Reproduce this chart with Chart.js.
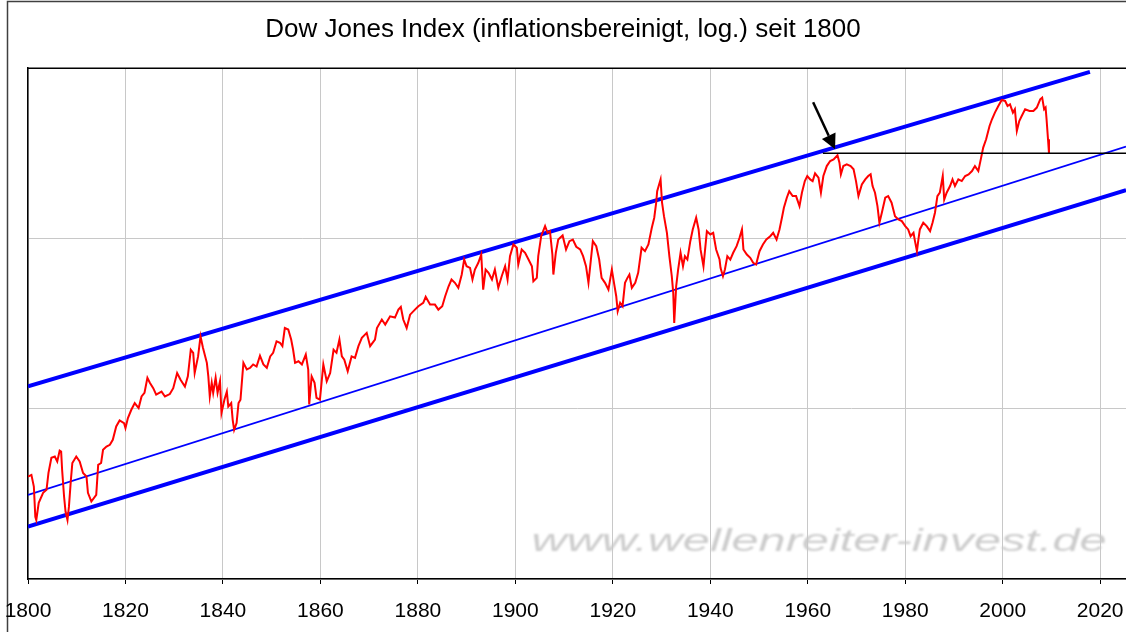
<!DOCTYPE html>
<html>
<head>
<meta charset="utf-8">
<title>Dow Jones Index seit 1800</title>
<script src="https://cdn.jsdelivr.net/npm/chart.js@4/dist/chart.umd.min.js"></script>
<style>
    body { margin: 0; background: #fff; }
    #dowChart { display: block; }
</style>
</head>
<body>
<canvas id="dowChart" width="1126" height="632"></canvas>
<script>

const title = 'Dow Jones Index (inflationsbereinigt, log.) seit 1800';
const watermark = 'www.wellenreiter-invest.de';

const years = [
    1800.0, 1800.7, 1801.2, 1801.5, 1801.7, 1802.2, 1803.1, 1803.8, 1804.2, 1804.8,
    1805.5, 1806.0, 1806.5, 1806.8, 1807.0, 1807.4, 1807.7, 1808.1, 1808.4, 1808.8,
    1809.1, 1809.9, 1810.6, 1811.3, 1812.0, 1812.3, 1813.0, 1814.0, 1814.4, 1815.0,
    1815.4, 1816.1, 1816.8, 1817.4, 1818.1, 1818.8, 1819.7, 1820.0, 1820.5, 1821.2,
    1821.9, 1822.7, 1823.3, 1823.9, 1824.5, 1825.0, 1825.7, 1826.3, 1827.4, 1828.1,
    1829.1, 1829.8, 1830.6, 1831.3, 1832.2, 1832.8, 1833.4, 1833.9, 1834.2, 1834.9,
    1835.4, 1835.9, 1836.7, 1837.0, 1837.3, 1837.7, 1838.0, 1838.5, 1838.9, 1839.4,
    1839.7, 1840.3, 1840.8, 1841.1, 1841.7, 1842.0, 1842.3, 1842.8, 1843.2, 1843.6,
    1844.2, 1844.9, 1845.6, 1846.2, 1846.9, 1847.6, 1848.3, 1849.0, 1849.7, 1850.3,
    1851.0, 1851.7, 1852.2, 1852.7, 1853.4, 1854.0, 1854.4, 1854.8, 1855.5, 1856.2,
    1857.0, 1857.5, 1857.7, 1858.2, 1858.8, 1859.2, 1859.9, 1860.6, 1861.3, 1862.0,
    1862.7, 1863.3, 1863.9, 1864.4, 1864.9, 1865.6, 1866.4, 1867.1, 1867.8, 1868.5,
    1869.5, 1870.2, 1871.2, 1871.6, 1872.6, 1873.3, 1874.3, 1875.3, 1876.0, 1876.5,
    1877.0, 1877.7, 1878.4, 1879.4, 1880.1, 1881.1, 1881.6, 1882.5, 1883.5, 1884.2,
    1885.0, 1885.6, 1886.3, 1886.9, 1887.6, 1888.3, 1889.0, 1889.5, 1890.0, 1890.7,
    1891.2, 1891.7, 1892.4, 1893.0, 1893.4, 1893.9, 1894.5, 1895.2, 1895.8, 1896.5,
    1897.2, 1897.9, 1898.4, 1898.9, 1899.6, 1900.3, 1900.6, 1901.3, 1902.0, 1902.7,
    1903.4, 1903.7, 1904.4, 1904.7, 1905.3, 1905.7, 1906.1, 1906.6, 1907.1, 1907.6,
    1907.8, 1908.3, 1908.8, 1909.7, 1910.4, 1911.1, 1911.8, 1912.5, 1913.3, 1913.9,
    1914.5, 1915.0, 1915.5, 1915.9, 1916.6, 1917.2, 1917.7, 1918.4, 1919.1, 1919.8,
    1920.3, 1920.7, 1921.0, 1921.5, 1922.0, 1922.5, 1923.0, 1923.4, 1923.9, 1924.6,
    1925.2, 1925.9, 1926.6, 1927.3, 1928.0, 1928.5, 1928.9, 1929.1, 1929.6, 1929.8,
    1930.1, 1930.5, 1931.1, 1931.6, 1932.1, 1932.4, 1932.6, 1933.0, 1933.4, 1933.9,
    1934.4, 1934.8, 1935.3, 1935.9, 1936.4, 1937.1, 1937.6, 1938.0, 1938.6, 1939.3,
    1940.0, 1940.6, 1941.2, 1941.9, 1942.1, 1942.6, 1943.0, 1943.5, 1944.1, 1944.7,
    1945.4, 1946.0, 1946.5, 1946.8, 1947.5, 1948.2, 1948.8, 1949.4, 1950.1, 1950.8,
    1951.5, 1952.3, 1952.9, 1953.6, 1954.2, 1954.7, 1955.1, 1955.7, 1956.2, 1956.9,
    1957.6, 1958.3, 1958.8, 1959.4, 1959.9, 1960.5, 1961.0, 1961.5, 1962.2, 1962.7,
    1963.2, 1963.9, 1964.6, 1965.3, 1966.1, 1966.5, 1966.8, 1967.3, 1968.0, 1968.8,
    1969.4, 1969.9, 1970.4, 1971.1, 1971.8, 1972.4, 1972.9, 1973.3, 1973.8, 1974.3,
    1974.7, 1975.2, 1975.9, 1976.5, 1977.2, 1977.9, 1978.6, 1979.3, 1980.0, 1980.6,
    1981.1, 1981.7, 1982.0, 1982.4, 1982.7, 1983.0, 1983.7, 1984.4, 1985.1, 1985.6,
    1986.1, 1986.6, 1987.1, 1987.7, 1988.0, 1988.5, 1989.2, 1989.7, 1990.2, 1990.9,
    1991.6, 1992.3, 1993.0, 1993.7, 1994.3, 1995.0, 1995.5, 1996.0, 1996.6, 1997.3,
    1997.8, 1998.4, 1999.1, 1999.8, 2000.5, 2001.0, 2001.5, 2002.1, 2002.5, 2002.9,
    2003.4, 2003.9, 2004.6, 2005.5, 2006.3, 2007.0, 2007.7, 2008.1, 2008.5, 2008.8,
    2009.0, 2009.3, 2009.5
];

const dowReal = [
    40.0, 40.9, 34.9, 23.2, 22.2, 28.0, 32.1, 33.4, 42.0, 51.5,
    52.4, 49.0, 56.8, 56.1, 43.8, 30.5, 24.9, 22.2, 26.6, 38.2,
    48.0, 52.4, 49.0, 41.9, 40.0, 32.1, 28.5, 31.2, 46.8, 48.0,
    57.4, 60.0, 61.4, 65.7, 78.7, 85.3, 82.4, 77.0, 88.2, 98.6,
    108, 101, 118, 124, 152, 142, 132, 121, 126, 118,
    122, 132, 162, 148, 135, 155, 222, 213, 162, 203,
    266, 228, 186, 155, 118, 142, 124, 152, 124, 145,
    94.3, 113, 126, 103, 108, 86.1, 75.2, 82.4, 108, 113,
    186, 170, 174, 182, 177, 205, 182, 174, 203, 213,
    249, 244, 233, 298, 292, 255, 222, 186, 190, 182,
    208, 170, 106, 155, 142, 116, 113, 182, 145, 162,
    222, 213, 255, 203, 194, 166, 203, 199, 233, 261,
    279, 233, 255, 298, 334, 312, 349, 343, 382, 396,
    334, 298, 357, 382, 400, 419, 454, 409, 409, 382,
    400, 458, 524, 574, 549, 513, 614, 752, 687, 672,
    574, 657, 720, 805, 501, 657, 628, 574, 657, 513,
    600, 687, 574, 787, 922, 882, 703, 862, 824, 752,
    687, 561, 587, 787, 1031, 1104, 1181, 1080, 1104, 805,
    614, 824, 986, 1041, 862, 964, 986, 894, 862, 787,
    687, 549, 752, 964, 901, 752, 587, 549, 501, 657,
    536, 458, 374, 419, 400, 549, 587, 614, 513, 549,
    628, 882, 842, 922, 1156, 1324, 1622, 1897, 2126, 2223,
    1622, 1352, 1080, 787, 600, 479, 319, 524, 657, 824,
    687, 787, 752, 964, 1130, 1324, 1130, 862, 687, 1104,
    1056, 1080, 862, 752, 672, 600, 657, 787, 752, 824,
    901, 1009, 1130, 862, 805, 770, 720, 703, 842, 922,
    986, 1031, 1080, 986, 1130, 1324, 1516, 1735, 1897, 1774,
    1774, 1549, 1857, 2173, 2326, 2223, 2173, 2410, 2275, 1857,
    2326, 2662, 2849, 2915, 3078, 2788, 2380, 2662, 2723, 2662,
    2547, 2173, 1774, 2078, 2223, 2326, 2380, 2031, 1857, 1549,
    1237, 1416, 1735, 1774, 1622, 1352, 1294, 1264, 1181, 1130,
    1031, 1080, 964, 842, 986, 1130, 1237, 1181, 1104, 1237,
    1416, 1774, 1857, 2326, 1694, 1857, 2031, 2223, 2031, 2223,
    2173, 2326, 2380, 2489, 2662, 2489, 2915, 3417, 3823, 4578,
    5012, 5488, 5998, 6510, 6422, 5998, 6138, 5488, 5738, 4278,
    4898, 5242, 5738, 5610, 5610, 5872, 6571, 6723, 5738, 5872,
    5012, 3823, 3162
];

// trend channel (start / end points)
const upperYears = [1800, 2017.9];
const upperVals = [135.6, 9506];
const midYears = [1800, 2025.3];
const midVals = [31.2, 3460];
const lowerYears = [1800, 2025.3];
const lowerVals = [20.3, 1923];

// horizontal level of the 1966 high and the arrow pointing at it
const levelYears = [1963.1, 2025.3];
const levelVals = [3162, 3162];
const arrowFrom = [1961.1, 6310];
const arrowTo = [1965.6, 3338];

const xTickYears = [1800, 1820, 1840, 1860, 1880, 1900, 1920, 1940, 1960, 1980, 2000, 2020];
const yGridValues = [10, 100, 1000, 10000];

function toPoints(xs, ys) {
    return xs.map((x, i) => ({ x: x, y: ys[i] }));
}

const decorations = {
    id: 'decorations',
    beforeDraw(chart) {
        const ctx = chart.ctx;
        ctx.save();
        ctx.strokeStyle = '#404040';
        ctx.lineWidth = 1.5;
        ctx.beginPath();
        ctx.moveTo(7.5, chart.height);
        ctx.lineTo(7.5, 1.5);
        ctx.lineTo(chart.width, 1.5);
        ctx.stroke();

        ctx.font = 'italic 31px "Liberation Sans", Arial, sans-serif';
        const w = ctx.measureText(watermark).width;
        ctx.translate(819, 551);
        ctx.scale(575 / w, 1);
        ctx.filter = 'blur(0.8px)';
        ctx.fillStyle = '#cccccc';
        ctx.textAlign = 'center';
        ctx.textBaseline = 'alphabetic';
        ctx.fillText(watermark, 0, 0);
        ctx.restore();
    },
    beforeDatasetsDraw(chart) {
        const { ctx, chartArea } = chart;
        ctx.save();
        ctx.strokeStyle = '#000';
        ctx.lineWidth = 1.5;
        ctx.beginPath();
        ctx.moveTo(chartArea.left, chartArea.top);
        ctx.lineTo(chartArea.right, chartArea.top);
        ctx.stroke();
        ctx.restore();
    },
    afterDatasetsDraw(chart) {
        const { ctx, scales } = chart;
        const x1 = scales.x.getPixelForValue(arrowFrom[0]);
        const y1 = scales.y.getPixelForValue(arrowFrom[1]);
        const x2 = scales.x.getPixelForValue(arrowTo[0]);
        const y2 = scales.y.getPixelForValue(arrowTo[1]);
        const a = Math.atan2(y2 - y1, x2 - x1);
        const head = 15;
        const half = 7.5;
        const bx = x2 - head * Math.cos(a);
        const by = y2 - head * Math.sin(a);
        ctx.save();
        ctx.strokeStyle = '#000';
        ctx.fillStyle = '#000';
        ctx.lineWidth = 2.5;
        ctx.beginPath();
        ctx.moveTo(x1, y1);
        ctx.lineTo(bx, by);
        ctx.stroke();
        ctx.beginPath();
        ctx.moveTo(x2, y2);
        ctx.lineTo(bx + half * Math.sin(a), by - half * Math.cos(a));
        ctx.lineTo(bx - half * Math.sin(a), by + half * Math.cos(a));
        ctx.closePath();
        ctx.fill();
        ctx.restore();
    }
};

window.onload = function () {

    const ctx = document.getElementById('dowChart').getContext('2d');

    new Chart(ctx, {
        type: 'line',
        data: {
            datasets: [
                {
                    label: 'Niveau 1966',
                    data: toPoints(levelYears, levelVals),
                    borderColor: '#000',
                    borderWidth: 1.5
                },
                {
                    label: 'Dow Jones real',
                    data: toPoints(years, dowReal),
                    borderColor: '#ff0000',
                    borderWidth: 2
                },
                {
                    label: 'Trend oben',
                    data: toPoints(upperYears, upperVals),
                    borderColor: '#0000ff',
                    borderWidth: 4
                },
                {
                    label: 'Trend Mitte',
                    data: toPoints(midYears, midVals),
                    borderColor: '#0000ff',
                    borderWidth: 1.8
                },
                {
                    label: 'Trend unten',
                    data: toPoints(lowerYears, lowerVals),
                    borderColor: '#0000ff',
                    borderWidth: 4
                }
            ]
        },
        options: {
            responsive: false,
            animation: false,
            devicePixelRatio: 1,
            layout: { padding: 0 },
            elements: {
                point: { radius: 0 },
                line: { tension: 0, borderCapStyle: 'butt' }
            },
            plugins: {
                legend: { display: false },
                tooltip: { enabled: false },
                title: {
                    display: true,
                    text: title,
                    color: '#000',
                    font: { family: '"Liberation Sans", Arial, sans-serif', size: 26, weight: 'normal' },
                    padding: { top: 14, bottom: 23 }
                }
            },
            scales: {
                x: {
                    type: 'linear',
                    min: 1800,
                    max: 2025.3,
                    afterBuildTicks(scale) {
                        scale.ticks = xTickYears.map(v => ({ value: v }));
                    },
                    afterFit(scale) {
                        scale.height = 53;
                        scale.paddingLeft = 0;
                        scale.paddingRight = 0;
                    },
                    ticks: {
                        callback: v => String(v),
                        color: '#000',
                        font: { family: '"Liberation Sans", Arial, sans-serif', size: 21 },
                        maxRotation: 0,
                        autoSkip: false,
                        padding: 15
                    },
                    grid: { color: '#c8c8c8', tickColor: '#000', tickLength: 5 },
                    border: { color: '#000', width: 1.5 }
                },
                y: {
                    type: 'logarithmic',
                    min: 10,
                    max: 10000,
                    afterBuildTicks(scale) {
                        scale.ticks = yGridValues.map(v => ({ value: v }));
                    },
                    afterFit(scale) {
                        scale.width = 28;
                        scale.paddingTop = 0;
                        scale.paddingBottom = 0;
                    },
                    ticks: { display: false },
                    grid: { color: '#c8c8c8', drawTicks: false },
                    border: { color: '#000', width: 1.5 }
                }
            }
        },
        plugins: [decorations]
    });

}
</script>
</body>
</html>
